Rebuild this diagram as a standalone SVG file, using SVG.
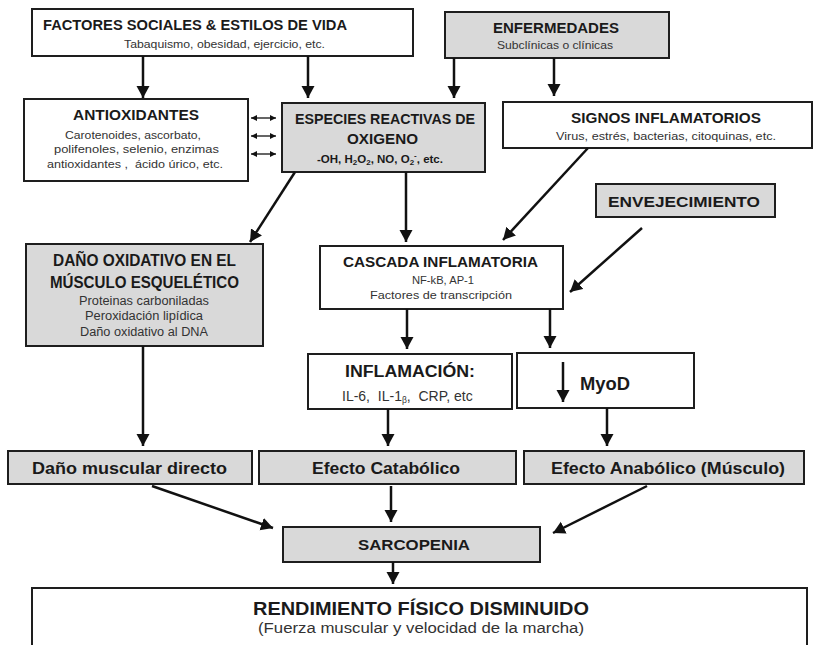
<svg xmlns="http://www.w3.org/2000/svg" width="820" height="645" viewBox="0 0 820 645">
<style>
.box{stroke:#1e1e1e;stroke-width:2}
.w{fill:#ffffff}
.g{fill:#d9d9d9}
.t{font-family:"Liberation Sans",Arial,sans-serif;font-weight:bold;fill:#1a1a1a}
.s{font-family:"Liberation Sans",Arial,sans-serif;fill:#333333}
.c{stroke:#111;stroke-width:2.5;fill:none}
.d{stroke:#111;stroke-width:1.3;fill:none}
</style>
<defs>
<marker id="ah" markerUnits="userSpaceOnUse" markerWidth="14" markerHeight="14" refX="12" refY="6.5" orient="auto">
<path d="M0,0 L12,6.5 L0,13 z" fill="#111"/>
</marker>
<marker id="sh" markerUnits="userSpaceOnUse" markerWidth="8" markerHeight="8" refX="6" refY="3" orient="auto-start-reverse">
<path d="M0,0 L6,3 L0,6 z" fill="#111"/>
</marker>
</defs>
<rect width="820" height="645" fill="#ffffff"/>

<g id="factores">
<rect class="box w" x="32" y="9" width="381" height="47"/>
<text class="t" x="43" y="30" font-size="14" textLength="304" lengthAdjust="spacingAndGlyphs">FACTORES SOCIALES &amp; ESTILOS DE VIDA</text>
<text class="s" x="124" y="48" font-size="11" textLength="201" lengthAdjust="spacingAndGlyphs">Tabaquismo, obesidad, ejercicio, etc.</text>
</g>

<g id="enfermedades">
<rect class="box g" x="445" y="12" width="224" height="46"/>
<text class="t" x="493" y="33" font-size="14" textLength="126" lengthAdjust="spacingAndGlyphs">ENFERMEDADES</text>
<text class="s" x="497" y="49" font-size="11" textLength="116" lengthAdjust="spacingAndGlyphs">Subclínicas o clínicas</text>
</g>

<g id="antioxidantes">
<rect class="box w" x="24" y="99" width="224" height="82"/>
<text class="t" x="73" y="120" font-size="14" textLength="126" lengthAdjust="spacingAndGlyphs">ANTIOXIDANTES</text>
<text class="s" x="65" y="139" font-size="11" textLength="136" lengthAdjust="spacingAndGlyphs">Carotenoides, ascorbato,</text>
<text class="s" x="54" y="153" font-size="11" textLength="165" lengthAdjust="spacingAndGlyphs">polifenoles, selenio, enzimas</text>
<text class="s" x="47" y="168" font-size="11" textLength="176" lengthAdjust="spacingAndGlyphs" xml:space="preserve">antioxidantes ,  ácido úrico, etc.</text>
</g>

<g id="especies">
<rect class="box g" x="282" y="103" width="203" height="69"/>
<text class="t" x="295" y="124" font-size="14" textLength="180" lengthAdjust="spacingAndGlyphs">ESPECIES REACTIVAS DE</text>
<text class="t" x="347" y="144" font-size="14" textLength="71" lengthAdjust="spacingAndGlyphs">OXIGENO</text>
<text class="t" x="317" y="163" font-size="11.5">-OH, H<tspan font-size="8" dy="2">2</tspan><tspan dy="-2">O</tspan><tspan font-size="8" dy="2">2</tspan><tspan dy="-2">, NO, O</tspan><tspan font-size="8" dy="2">2</tspan><tspan font-size="8" dy="-7">-</tspan><tspan dy="5">, etc.</tspan></text>
</g>

<g id="signos">
<rect class="box w" x="503" y="102" width="309" height="46"/>
<text class="t" x="571" y="123" font-size="14" textLength="190" lengthAdjust="spacingAndGlyphs">SIGNOS INFLAMATORIOS</text>
<text class="s" x="556" y="140" font-size="11" textLength="220" lengthAdjust="spacingAndGlyphs">Virus, estrés, bacterias, citoquinas, etc.</text>
</g>

<g id="envejecimiento">
<rect class="box g" x="596" y="184" width="179" height="33"/>
<text class="t" x="608" y="207" font-size="15" textLength="152" lengthAdjust="spacingAndGlyphs">ENVEJECIMIENTO</text>
</g>

<g id="dano_oxidativo">
<rect class="box g" x="26" y="244" width="237" height="102"/>
<text class="t" x="53" y="266" font-size="16" textLength="183" lengthAdjust="spacingAndGlyphs">DAÑO OXIDATIVO EN EL</text>
<text class="t" x="50" y="288" font-size="16" textLength="189" lengthAdjust="spacingAndGlyphs">MÚSCULO ESQUELÉTICO</text>
<text class="s" x="79" y="305" font-size="12" textLength="130" lengthAdjust="spacingAndGlyphs">Proteinas carboniladas</text>
<text class="s" x="85" y="320" font-size="12" textLength="118" lengthAdjust="spacingAndGlyphs">Peroxidación lipídica</text>
<text class="s" x="80" y="336" font-size="12" textLength="128" lengthAdjust="spacingAndGlyphs">Daño oxidativo al DNA</text>
</g>

<g id="cascada">
<rect class="box w" x="320" y="246" width="243" height="63"/>
<text class="t" x="343" y="267" font-size="15" textLength="195" lengthAdjust="spacingAndGlyphs">CASCADA INFLAMATORIA</text>
<text class="s" x="412" y="284" font-size="11" textLength="62" lengthAdjust="spacingAndGlyphs">NF-kB, AP-1</text>
<text class="s" x="370" y="299" font-size="11" textLength="142" lengthAdjust="spacingAndGlyphs">Factores de transcripción</text>
</g>

<g id="inflamacion">
<rect class="box w" x="308" y="354" width="204" height="55"/>
<text class="t" x="345" y="377" font-size="16" textLength="130" lengthAdjust="spacingAndGlyphs">INFLAMACIÓN:</text>
<text class="s" x="342" y="401" font-size="14" xml:space="preserve">IL-6,  IL-1<tspan font-size="8.5" dy="2">β</tspan><tspan dy="-2">,  CRP, etc</tspan></text>
</g>

<g id="myod">
<rect class="box w" x="517" y="353" width="177" height="55"/>
<line class="c" x1="563" y1="362" x2="563" y2="402" marker-end="url(#ah)"/>
<text class="t" x="580" y="390" font-size="18" textLength="50" lengthAdjust="spacingAndGlyphs">MyoD</text>
</g>

<g id="dano_muscular">
<rect class="box g" x="8" y="451" width="244" height="33"/>
<text class="t" x="32" y="474" font-size="16" textLength="195" lengthAdjust="spacingAndGlyphs">Daño muscular directo</text>
</g>

<g id="catabolico">
<rect class="box g" x="259" y="451" width="257" height="33"/>
<text class="t" x="312" y="474" font-size="16" textLength="148" lengthAdjust="spacingAndGlyphs">Efecto Catabólico</text>
</g>

<g id="anabolico">
<rect class="box g" x="524" y="451" width="280" height="33"/>
<text class="t" x="551" y="474" font-size="16" textLength="234" lengthAdjust="spacingAndGlyphs">Efecto Anabólico (Músculo)</text>
</g>

<g id="sarcopenia">
<rect class="box g" x="283" y="527" width="257" height="35"/>
<text class="t" x="358" y="550" font-size="15" textLength="112" lengthAdjust="spacingAndGlyphs">SARCOPENIA</text>
</g>

<g id="rendimiento">
<rect class="box w" x="32" y="588" width="775" height="80"/>
<text class="t" x="253" y="615" font-size="18" textLength="336" lengthAdjust="spacingAndGlyphs">RENDIMIENTO FÍSICO DISMINUIDO</text>
<text class="s" x="258" y="633" font-size="14" textLength="326" lengthAdjust="spacingAndGlyphs">(Fuerza muscular y velocidad de la marcha)</text>
</g>

<g id="connectors">
<line class="c" x1="143" y1="56" x2="143" y2="98" marker-end="url(#ah)"/>
<line class="c" x1="308" y1="56" x2="308" y2="98" marker-end="url(#ah)"/>
<line class="c" x1="454" y1="58" x2="454" y2="98" marker-end="url(#ah)"/>
<line class="c" x1="554" y1="58" x2="554" y2="96" marker-end="url(#ah)"/>
<line class="d" x1="251" y1="118" x2="276" y2="118" marker-start="url(#sh)" marker-end="url(#sh)"/>
<line class="d" x1="251" y1="136" x2="276" y2="136" marker-start="url(#sh)" marker-end="url(#sh)"/>
<line class="d" x1="251" y1="154" x2="276" y2="154" marker-start="url(#sh)" marker-end="url(#sh)"/>
<line class="c" x1="295" y1="172" x2="250" y2="242" marker-end="url(#ah)"/>
<line class="c" x1="406" y1="172" x2="406" y2="242" marker-end="url(#ah)"/>
<line class="c" x1="588" y1="148" x2="503" y2="240" marker-end="url(#ah)"/>
<line class="c" x1="642" y1="228" x2="570" y2="292" marker-end="url(#ah)"/>
<line class="c" x1="407" y1="309" x2="407" y2="349" marker-end="url(#ah)"/>
<line class="c" x1="550" y1="309" x2="550" y2="348" marker-end="url(#ah)"/>
<line class="c" x1="143" y1="346" x2="143" y2="446" marker-end="url(#ah)"/>
<line class="c" x1="388" y1="409" x2="388" y2="446" marker-end="url(#ah)"/>
<line class="c" x1="607" y1="408" x2="607" y2="446" marker-end="url(#ah)"/>
<line class="c" x1="152" y1="486" x2="273" y2="528" marker-end="url(#ah)"/>
<line class="c" x1="391" y1="486" x2="391" y2="522" marker-end="url(#ah)"/>
<line class="c" x1="647" y1="486" x2="553" y2="533" marker-end="url(#ah)"/>
<line class="c" x1="393" y1="562" x2="393" y2="584" marker-end="url(#ah)"/>
</g>
</svg>
